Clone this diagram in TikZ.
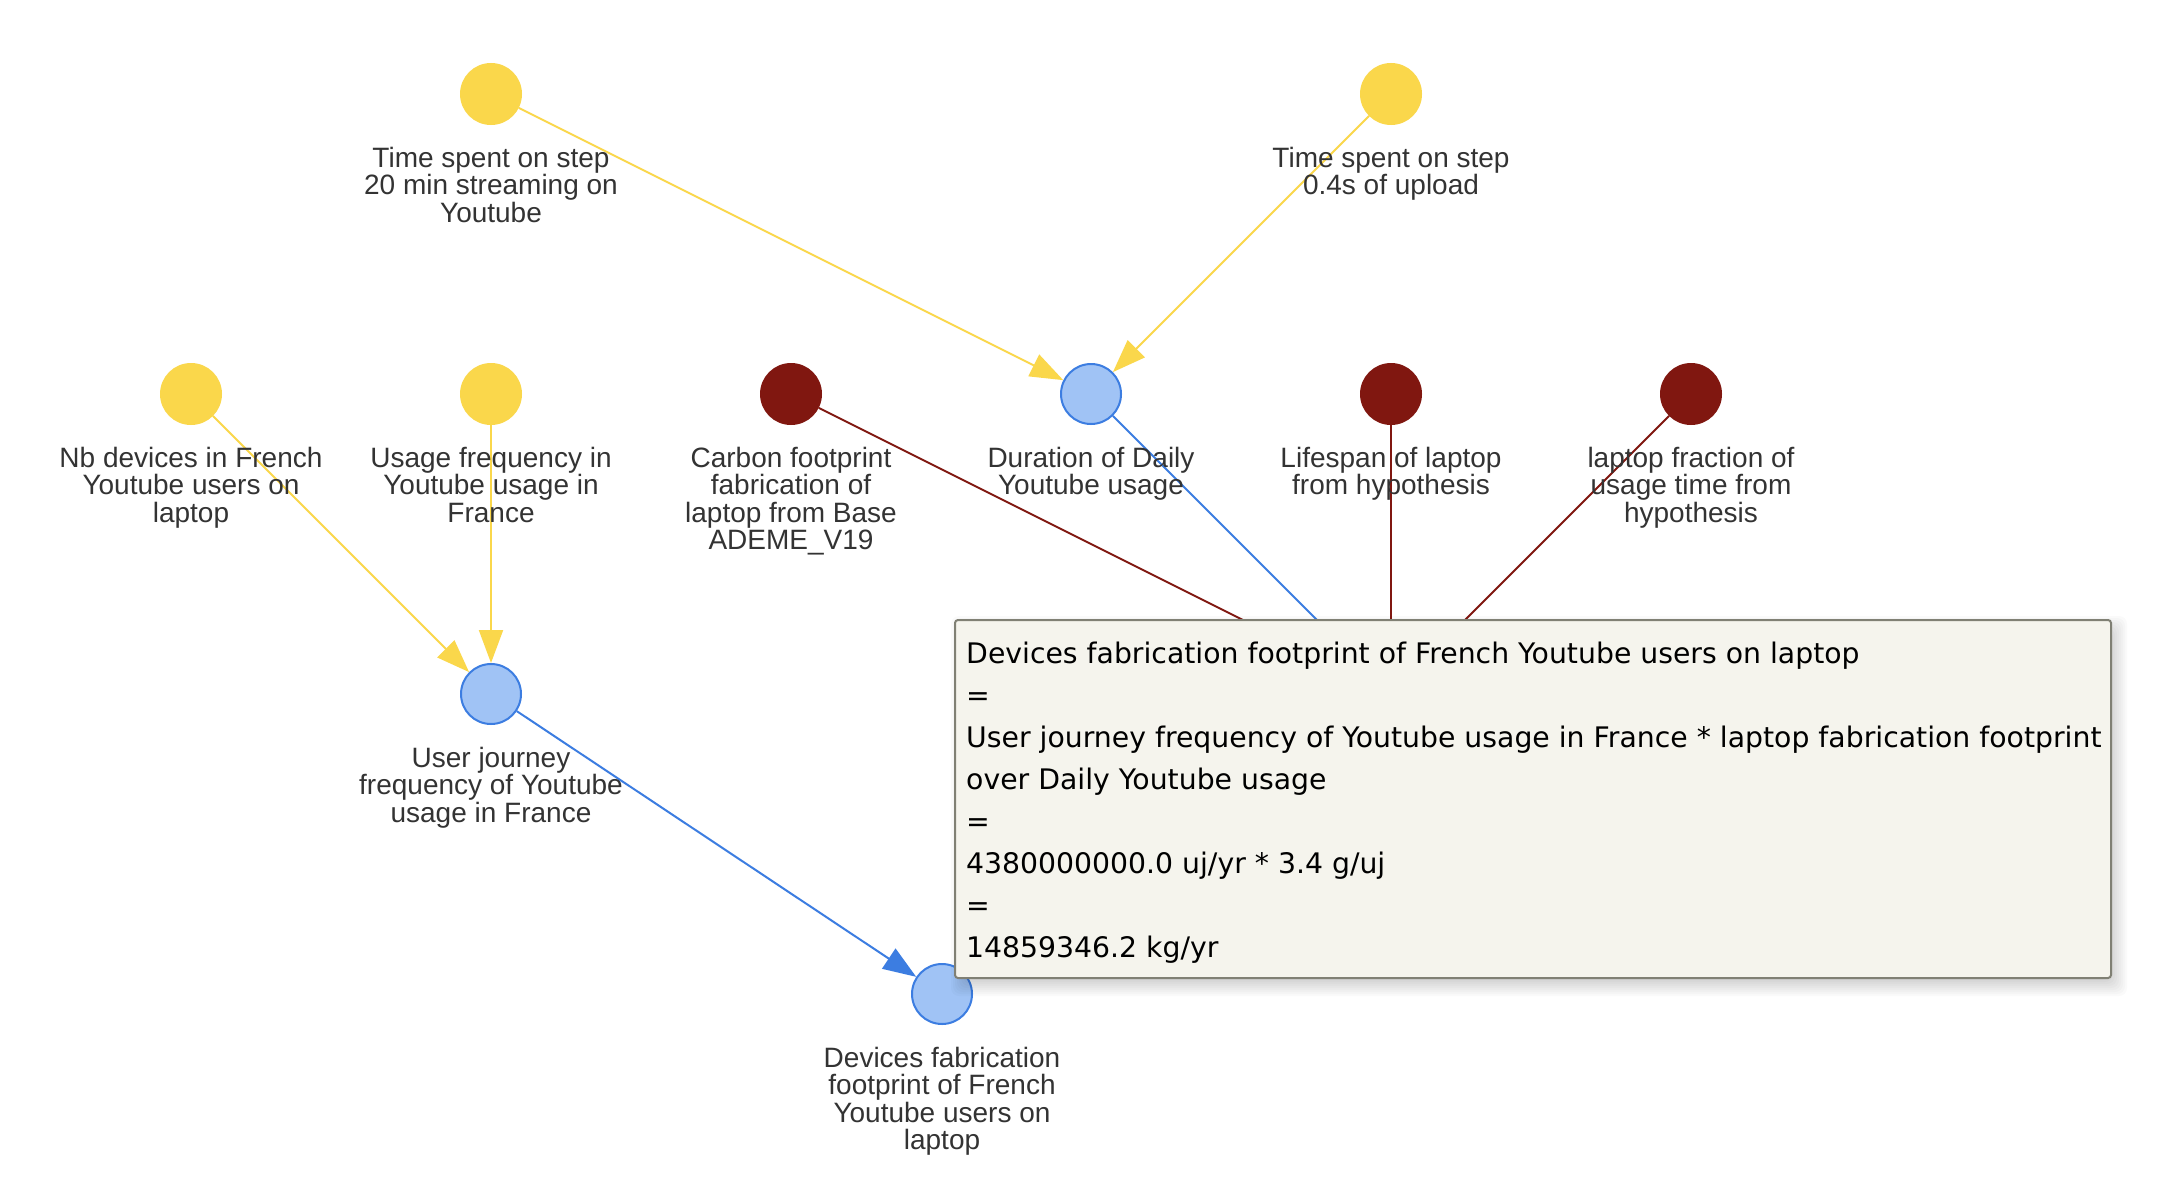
\documentclass[tikz,border=0pt]{standalone}
\usepackage{fontspec}
\setmainfont{Liberation Sans}
\newfontfamily\boxfont{DejaVu Sans}
\usetikzlibrary{arrows.meta}
\definecolor{ylw}{RGB}{250,215,75}
\definecolor{bfill}{RGB}{160,195,245}
\definecolor{bline}{RGB}{60,125,225}
\definecolor{dred}{RGB}{128,23,16}
\definecolor{lblc}{RGB}{51,51,51}
\definecolor{tipbg}{RGB}{245,244,237}
\definecolor{tipbd}{RGB}{128,128,116}
\begin{document}
\begin{tikzpicture}[x=1pt,y=-1pt,
  dotnode/.style={circle, minimum size=60pt, inner sep=0pt, line width=2pt},
  ynode/.style={dotnode, fill=ylw, draw=ylw},
  rnode/.style={dotnode, fill=dred, draw=dred},
  bnode/.style={dotnode, fill=bfill, draw=bline},
  lbl/.style={text=lblc, font=\fontsize{28}{27.5}\selectfont, align=center, anchor=north, inner sep=0pt},
  yarr/.style={draw=ylw, line width=2pt, -{Triangle[length=33pt,width=24pt]}},
  barr/.style={draw=bline, line width=2pt, -{Triangle[length=33pt,width=24pt]}},
  rline/.style={draw=dred, line width=2pt},
  bline2/.style={draw=bline, line width=2pt},
  tipbox/.style={draw=tipbd, fill=tipbg, line width=2pt, rounded corners=3pt, minimum width=1156pt, minimum height=358pt, inner sep=0pt},
  tiptext/.style={font=\boxfont\fontsize{28.3}{42}\selectfont, align=left, anchor=north west, inner sep=0pt, text=black}
]
\useasboundingbox (0,0) rectangle (2168,1204);
\fill[white] (0,0) rectangle (2168,1204);
% nodes
\node[ynode] (t1) at (491,94) {};
\node[ynode] (t2) at (1391,94) {};
\node[ynode] (nb) at (191,394) {};
\node[ynode] (uf) at (491,394) {};
\node[rnode] (cf) at (791,394) {};
\node[bnode] (du) at (1091,394) {};
\node[rnode] (ls) at (1391,394) {};
\node[rnode] (lf) at (1691,394) {};
\node[bnode] (uj) at (491,694) {};
\node[bnode] (df) at (942,994) {};
\coordinate (h) at (1391,694);
% edges
\draw[yarr] (t1) -- (du);
\draw[yarr] (t2) -- (du);
\draw[yarr] (nb) -- (uj);
\draw[yarr] (uf) -- (uj);
\draw[barr] (uj) -- (df);
\draw[rline] (cf) -- (h);
\draw[bline2] (du) -- (h);
\draw[rline] (ls) -- (h);
\draw[rline] (lf) -- (h);
% labels
\node[lbl] (t1l) at (491,146) {\rule{0pt}{21pt}Time spent on step\\20 min streaming on\\Youtube};
\node[lbl] (t2l) at (1391,146) {\rule{0pt}{21pt}Time spent on step\\0.4s of upload};
\node[lbl] (nbl) at (191,446) {\rule{0pt}{21pt}Nb devices in French\\Youtube users on\\laptop};
\node[lbl] (ufl) at (491,446) {\rule{0pt}{21pt}Usage frequency in\\Youtube usage in\\France};
\node[lbl] (cfl) at (791,446) {\rule{0pt}{21pt}Carbon footprint\\fabrication of\\laptop from Base\\ADEME\_V19};
\node[lbl] (dul) at (1091,446) {\rule{0pt}{21pt}Duration of Daily\\Youtube usage};
\node[lbl] (lsl) at (1391,446) {\rule{0pt}{21pt}Lifespan of laptop\\from hypothesis};
\node[lbl] (lfl) at (1691,446) {\rule{0pt}{21pt}laptop fraction of\\usage time from\\hypothesis};
\node[lbl] (ujl) at (491,746) {\rule{0pt}{21pt}User journey\\frequency of Youtube\\usage in France};
\node[lbl] (dfl) at (942,1046) {\rule{0pt}{21pt}Devices fabrication\\footprint of French\\Youtube users on\\laptop};
% tooltip shadow
\foreach \e in {-10,-8,...,10}
  \fill[black, opacity=0.02, rounded corners=8pt] (961-\e,626-\e) rectangle (2117+\e,986+\e);
% tooltip
\node[tipbox] (box) at (1533,799) {};
\node[tiptext] (boxt) at (966,640) {\rule{0pt}{23pt}Devices fabrication footprint of French Youtube users on laptop\\
=\\
User journey frequency of Youtube usage in France * laptop fabrication footprint\\
over Daily Youtube usage\\
=\\
4380000000.0 uj/yr * 3.4 g/uj\\
=\\
14859346.2 kg/yr};
\end{tikzpicture}
\end{document}
